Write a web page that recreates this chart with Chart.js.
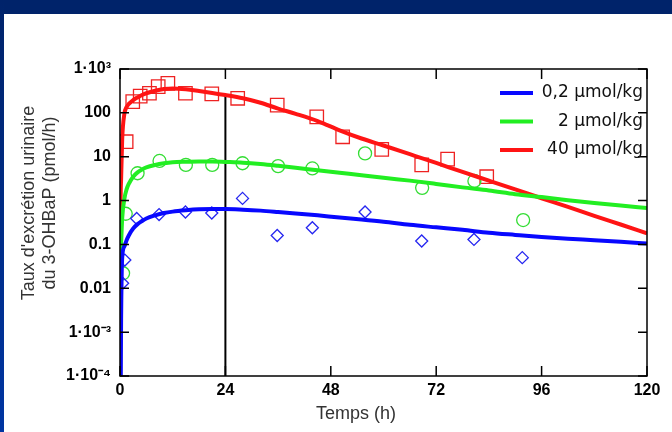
<!DOCTYPE html>
<html>
<head>
<meta charset="utf-8">
<script src="https://cdn.jsdelivr.net/npm/chart.js@4.4.1/dist/chart.umd.min.js"></script>
<style>
  html, body { margin: 0; padding: 0; background: #fff; }
  #quadro { position: relative; width: 672px; height: 432px; overflow: hidden; background: #fff; }
  #faixaTopo { position: absolute; left: 0; top: 0; width: 672px; height: 14px; background: #00236a; }
  #faixaEsq { position: absolute; left: 0; top: 0; width: 4px; height: 432px; background: linear-gradient(#00236a, #0035a2); }
  #grafico { position: absolute; left: 0; top: 0; }
</style>
</head>
<body>
<div id="quadro">
  <div id="faixaTopo"></div>
  <div id="faixaEsq"></div>
  <canvas id="grafico" width="672" height="432"></canvas>
</div>
<script>
// legendas e eixos
var legendas = ['0,2 µmol/kg', '2 µmol/kg', '40 µmol/kg'];
var tituloX = 'Temps (h)';
var tituloY = ["Taux d'excrétion urinaire", 'du 3-OHBaP (pmol/h)'];
var ticksX = [0, 24, 48, 72, 96, 120];
var ticksY = [1e-4, 1e-3, 0.01, 0.1, 1, 10, 100, 1000];
var rotulosY = ['1·10⁻⁴', '1·10⁻³', '0.01', '0.1', '1', '10', '100', '1·10³'];

// curvas do modelo
var tempoCurva = [0, 0.1, 0.25, 0.5, 1, 1.5, 2, 3, 4, 5, 6, 8, 10, 12, 15, 18, 21, 24, 28, 32, 36, 40, 45, 50, 55, 60, 66, 72, 78, 84, 90, 96, 102, 108, 114, 120];
var curvaAzul = [1e-5, 1e-5, 0.002, 0.05, 0.09, 0.125, 0.16, 0.23, 0.29, 0.34, 0.39, 0.46, 0.52, 0.56, 0.6, 0.63, 0.64, 0.64, 0.62, 0.59, 0.55, 0.51, 0.46, 0.41, 0.37, 0.33, 0.28, 0.245, 0.215, 0.185, 0.165, 0.148, 0.135, 0.125, 0.115, 0.105];
var curvaVerde = [1e-5, 0.02, 0.1, 0.4, 1.1, 1.8, 2.4, 3.5, 4.4, 5.1, 5.7, 6.5, 7.1, 7.5, 7.7, 7.8, 7.8, 7.6, 7.3, 6.8, 6.2, 5.6, 4.9, 4.3, 3.8, 3.3, 2.85, 2.4, 2.0, 1.7, 1.4, 1.2, 1.02, 0.88, 0.77, 0.68];
var curvaVermelha = [1e-5, 0.3, 3, 25, 95, 135, 160, 195, 225, 255, 280, 320, 350, 360, 345, 315, 285, 255, 215, 170, 125, 95, 65, 40, 26, 18, 11.4, 7.2, 4.5, 2.85, 1.8, 1.13, 0.72, 0.45, 0.285, 0.18];

// pontos medidos
var tempoAzul = [0.6, 1.1, 3.8, 8.9, 14.9, 20.9, 27.9, 35.8, 43.8, 55.8, 68.7, 80.6, 91.6];
var medidaAzul = [0.013, 0.044, 0.39, 0.48, 0.55, 0.52, 1.12, 0.16, 0.24, 0.55, 0.12, 0.13, 0.05];
var tempoVerde = [0.7, 1.3, 4.0, 9.0, 15.0, 21.0, 27.9, 36.0, 43.8, 55.8, 68.8, 80.7, 91.8];
var medidaVerde = [0.022, 0.5, 4.2, 8.0, 6.5, 6.5, 7.1, 6.1, 5.4, 11.9, 1.95, 2.8, 0.36];
var tempoVermelho = [1.4, 2.9, 4.6, 6.7, 8.7, 10.9, 14.9, 20.9, 26.8, 35.8, 44.8, 50.7, 59.6, 68.7, 74.6, 83.5];
var medidaVermelho = [22, 180, 240, 280, 395, 470, 280, 270, 215, 150, 81, 28.5, 14.7, 6.5, 8.8, 3.5];

// linha vertical em 24 h
var linhaT = [24, 24];
var linhaV = [1e-4, 255];

var coresCurva = ['#0808ff', '#22ee22', '#ff1414'];

function pares(xs, ys) {
  return xs.map(function(x, i) { return { x: x, y: ys[i] }; });
}

function curva(i, ys) {
  return {
    label: legendas[i],
    data: pares(tempoCurva, ys),
    showLine: true,
    borderColor: coresCurva[i],
    borderWidth: 4,
    pointRadius: 0,
    cubicInterpolationMode: 'monotone'
  };
}

function medidas(xs, ys, cor, estilo, raio) {
  return {
    label: '',
    data: pares(xs, ys),
    showLine: false,
    pointStyle: estilo,
    pointRadius: raio,
    pointBorderColor: cor,
    pointBackgroundColor: 'rgba(0,0,0,0)',
    pointBorderWidth: 1.3
  };
}

// moldura, tiques para dentro, titulos e legenda
var decor = {
  id: 'decor',
  afterDatasetsDraw: function(chart) {
    var c = chart.ctx, a = chart.chartArea;
    var sx = chart.scales.x, sy = chart.scales.y;
    c.save();
    c.strokeStyle = '#000';
    c.lineWidth = 1.5;
    c.strokeRect(a.left, a.top, a.right - a.left, a.bottom - a.top);
    c.beginPath();
    ticksX.forEach(function(t) {
      var px = sx.getPixelForValue(t);
      c.moveTo(px, a.bottom); c.lineTo(px, a.bottom - 10);
      c.moveTo(px, a.top); c.lineTo(px, a.top + 10);
    });
    ticksY.forEach(function(v) {
      var py = sy.getPixelForValue(v);
      c.moveTo(a.left, py); c.lineTo(a.left + 9, py);
      c.moveTo(a.right, py); c.lineTo(a.right - 9, py);
    });
    c.stroke();

    // titulos dos eixos
    c.fillStyle = '#333';
    c.font = '18px "Liberation Sans", Arial, sans-serif';
    c.textAlign = 'center';
    c.textBaseline = 'middle';
    c.fillText(tituloX, 356, 414);
    c.save();
    c.translate(29, 203);
    c.rotate(-Math.PI / 2);
    c.fillText(tituloY[0], 0, 0);
    c.fillText(tituloY[1], 0, 21);
    c.restore();

    // legenda
    c.font = '17px "DejaVu Sans", Verdana, sans-serif';
    c.textAlign = 'right';
    c.fillStyle = '#111';
    for (var i = 0; i < 3; i++) {
      var y = 93 + i * 28.5;
      c.strokeStyle = coresCurva[i];
      c.lineWidth = 4;
      c.beginPath();
      c.moveTo(500, y); c.lineTo(533, y);
      c.stroke();
      c.fillText(legendas[i], 643, y);
    }
    c.restore();
  }
};

var ctx = document.getElementById('grafico');
var meuGrafico = new Chart(ctx, {
  type: 'scatter',
  data: {
    datasets: [
      curva(0, curvaAzul),
      curva(1, curvaVerde),
      curva(2, curvaVermelha),
      medidas(tempoAzul, medidaAzul, '#2626f0', 'rectRot', 6),
      medidas(tempoVerde, medidaVerde, '#33dd33', 'circle', 6.5),
      medidas(tempoVermelho, medidaVermelho, '#ee2222', 'rect', 9.5),
      {
        label: '',
        data: pares(linhaT, linhaV),
        showLine: true,
        borderColor: '#000',
        borderWidth: 2,
        pointRadius: 0
      }
    ]
  },
  options: {
    responsive: false,
    animation: false,
    layout: { padding: { top: 69, right: 25, left: 0, bottom: 0 } },
    plugins: {
      legend: { display: false },
      tooltip: { enabled: false }
    },
    scales: {
      x: {
        type: 'linear',
        min: 0,
        max: 120,
        afterBuildTicks: function(s) { s.ticks = ticksX.map(function(v) { return { value: v }; }); },
        afterFit: function(s) { s.height = 56; },
        grid: { display: false, drawTicks: false },
        border: { display: false },
        ticks: {
          padding: 5,
          color: '#000',
          font: { family: '"Liberation Sans", Arial, sans-serif', size: 16, weight: 'bold' }
        }
      },
      y: {
        type: 'logarithmic',
        min: 1e-4,
        max: 1000,
        afterBuildTicks: function(s) { s.ticks = ticksY.map(function(v) { return { value: v }; }); },
        afterFit: function(s) { s.width = 120; },
        grid: { display: false, drawTicks: false },
        border: { display: false },
        ticks: {
          padding: 9,
          color: '#000',
          autoSkip: false,
          font: { family: '"Liberation Sans", Arial, sans-serif', size: 16, weight: 'bold' },
          callback: function(v) {
            var i = ticksY.indexOf(v);
            return i >= 0 ? rotulosY[i] : '';
          }
        }
      }
    }
  },
  plugins: [decor]
});
</script>
</body>
</html>
